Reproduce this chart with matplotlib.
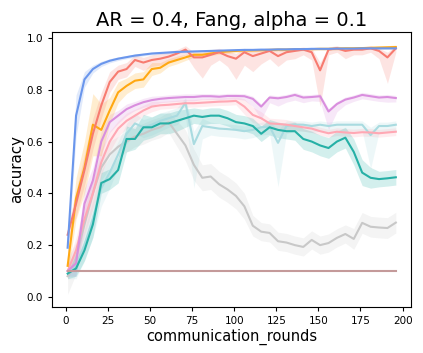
import numpy as np
import matplotlib
matplotlib.use("Agg")
import matplotlib.pyplot as plt

rounds = list(range(1, 200, 5))

blue = [0.19,0.70,0.84,0.88,0.90,0.912,0.92,0.926,0.932,0.936,0.94,0.942,0.944,0.946,0.947,0.948,0.949,0.95,0.951,0.952,
        0.953,0.954,0.954,0.955,0.955,0.956,0.956,0.957,0.957,0.958,0.958,0.958,0.959,0.959,0.959,0.96,0.96,0.96,0.96,0.96]
blue_err = [0.05,0.08,0.03,0.015,0.01,0.008,0.007,0.006,0.006,0.005,0.005,0.005,0.005,0.004,0.004,0.004,0.004,0.004,0.004,0.004,
            0.004,0.004,0.004,0.004,0.004,0.004,0.004,0.004,0.004,0.004,0.004,0.004,0.004,0.004,0.004,0.004,0.004,0.004,0.004,0.004]

red = [0.24,0.36,0.49,0.63,0.74,0.83,0.87,0.88,0.915,0.905,0.915,0.92,0.928,0.94,0.955,0.925,0.925,0.935,0.945,0.93,
       0.92,0.945,0.93,0.94,0.95,0.93,0.945,0.95,0.955,0.945,0.875,0.955,0.96,0.95,0.955,0.955,0.96,0.95,0.925,0.96]
red_lo = [0.03,0.05,0.06,0.06,0.05,0.04,0.03,0.03,0.025,0.03,0.025,0.025,0.025,0.02,0.02,0.04,0.08,0.04,0.03,0.04,
          0.08,0.05,0.06,0.04,0.03,0.04,0.03,0.03,0.02,0.03,0.14,0.02,0.015,0.03,0.02,0.02,0.015,0.03,0.10,0.015]
red_hi = [0.03,0.05,0.06,0.06,0.05,0.04,0.025,0.025,0.02,0.02,0.02,0.02,0.02,0.015,0.015,0.02,0.02,0.02,0.015,0.02,
          0.02,0.015,0.02,0.015,0.01,0.02,0.015,0.01,0.01,0.015,0.03,0.01,0.01,0.01,0.01,0.01,0.01,0.01,0.02,0.01]

orange = [0.12,0.38,0.50,0.665,0.645,0.72,0.79,0.815,0.835,0.84,0.88,0.885,0.905,0.915,0.925,0.935,0.935,0.94,0.945,0.948,
          0.95,0.952,0.952,0.953,0.954,0.955,0.955,0.956,0.957,0.957,0.958,0.958,0.959,0.96,0.96,0.961,0.962,0.963,0.964,0.965]
orange_err = [0.04,0.08,0.10,0.12,0.10,0.05,0.04,0.03,0.03,0.03,0.025,0.02,0.015,0.015,0.012,0.01,0.01,0.008,0.008,0.008,
              0.006,0.006,0.006,0.006,0.006,0.006,0.006,0.006,0.006,0.006,0.006,0.006,0.006,0.006,0.006,0.006,0.006,0.006,0.006,0.008]

violet = [0.10,0.13,0.36,0.45,0.60,0.675,0.70,0.725,0.74,0.752,0.76,0.765,0.768,0.77,0.772,0.772,0.775,0.775,0.773,0.776,
          0.776,0.775,0.765,0.735,0.77,0.767,0.772,0.78,0.77,0.772,0.775,0.716,0.745,0.762,0.77,0.78,0.775,0.77,0.772,0.768]
violet_lo = [0.02,0.05,0.08,0.06,0.05,0.04,0.03,0.025,0.02,0.02,0.02,0.015,0.015,0.015,0.015,0.015,0.012,0.012,0.012,0.012,
             0.012,0.015,0.03,0.05,0.02,0.03,0.02,0.02,0.02,0.015,0.02,0.07,0.03,0.02,0.015,0.015,0.015,0.015,0.02,0.015]
violet_hi = [0.02,0.05,0.06,0.05,0.04,0.03,0.02,0.02,0.015,0.015,0.015,0.012,0.012,0.012,0.012,0.012,0.01,0.01,0.01,0.01,
             0.01,0.01,0.01,0.01,0.01,0.01,0.01,0.01,0.01,0.01,0.01,0.012,0.01,0.01,0.01,0.01,0.01,0.01,0.01,0.01]

pink = [0.10,0.18,0.30,0.40,0.52,0.60,0.65,0.68,0.70,0.72,0.735,0.74,0.742,0.745,0.748,0.748,0.75,0.752,0.754,0.755,
        0.757,0.735,0.703,0.69,0.67,0.668,0.665,0.66,0.655,0.65,0.64,0.632,0.638,0.635,0.633,0.636,0.635,0.632,0.635,0.638]
pink_err = [0.03,0.05,0.06,0.06,0.05,0.04,0.03,0.03,0.025,0.02,0.02,0.015,0.015,0.015,0.015,0.015,0.015,0.015,0.015,0.015,
            0.015,0.03,0.03,0.025,0.02,0.02,0.02,0.015,0.015,0.015,0.015,0.015,0.015,0.015,0.015,0.015,0.015,0.015,0.015,0.015]

teal = [0.09,0.11,0.18,0.28,0.44,0.455,0.49,0.61,0.61,0.655,0.655,0.67,0.67,0.68,0.69,0.70,0.695,0.70,0.70,0.69,
        0.675,0.67,0.66,0.63,0.655,0.645,0.64,0.64,0.61,0.60,0.585,0.575,0.60,0.615,0.56,0.48,0.46,0.455,0.458,0.462]
teal_err = [0.02,0.03,0.04,0.05,0.04,0.04,0.05,0.05,0.04,0.05,0.04,0.04,0.04,0.04,0.035,0.03,0.03,0.03,0.03,0.03,
            0.03,0.03,0.03,0.03,0.03,0.03,0.03,0.035,0.04,0.04,0.04,0.04,0.04,0.04,0.05,0.05,0.04,0.03,0.03,0.03]

cyan = [0.10,0.12,0.20,0.30,0.42,0.48,0.55,0.63,0.67,0.655,0.665,0.68,0.69,0.70,0.75,0.59,0.66,0.655,0.65,0.648,
        0.645,0.64,0.645,0.655,0.658,0.595,0.66,0.665,0.665,0.66,0.665,0.66,0.665,0.665,0.665,0.665,0.625,0.66,0.66,0.665]
cyan_lo = [0.03,0.05,0.06,0.07,0.07,0.06,0.05,0.04,0.04,0.04,0.04,0.04,0.035,0.035,0.05,0.17,0.05,0.03,0.03,0.03,
           0.03,0.03,0.03,0.03,0.03,0.17,0.03,0.025,0.025,0.025,0.025,0.025,0.025,0.025,0.025,0.025,0.13,0.025,0.025,0.025]
cyan_hi = [0.03,0.05,0.06,0.07,0.07,0.06,0.05,0.04,0.04,0.03,0.03,0.03,0.03,0.03,0.02,0.05,0.03,0.02,0.02,0.02,
           0.02,0.02,0.02,0.02,0.02,0.05,0.02,0.015,0.015,0.015,0.015,0.015,0.015,0.015,0.015,0.015,0.03,0.015,0.015,0.015]

gray = [0.08,0.15,0.28,0.40,0.50,0.55,0.58,0.60,0.62,0.63,0.645,0.655,0.675,0.63,0.585,0.51,0.46,0.465,0.435,0.415,
        0.39,0.35,0.275,0.252,0.247,0.215,0.21,0.20,0.193,0.22,0.20,0.208,0.228,0.243,0.224,0.286,0.271,0.268,0.266,0.287]
gray_err = [0.07,0.06,0.06,0.06,0.05,0.05,0.04,0.04,0.04,0.04,0.04,0.04,0.04,0.05,0.06,0.06,0.05,0.05,0.05,0.05,
            0.05,0.05,0.04,0.035,0.035,0.035,0.035,0.035,0.035,0.035,0.035,0.035,0.035,0.035,0.04,0.04,0.04,0.04,0.04,0.04]

brown = [0.10] * 40

series = [
    (gray, gray_err, gray_err, "#c8c8c8"),
    (cyan, cyan_lo, cyan_hi, "#a9dbe0"),
    (pink, pink_err, pink_err, "#ffa8b4"),
    (violet, violet_lo, violet_hi, "#d98ede"),
    (teal, teal_err, teal_err, "#26b0a6"),
    (orange, orange_err, orange_err, "#ffa812"),
    (red, red_lo, red_hi, "#f77b70"),
    (blue, blue_err, blue_err, "#6a96ec"),
    (brown, [0.002] * 40, [0.002] * 40, "#c49a9a"),
]

fig = plt.figure(figsize=(4.23, 3.53), dpi=100)
ax = fig.add_axes([0.1229, 0.1303, 0.9716 - 0.1229, 0.9093 - 0.1303])
x = np.array(rounds)
for mean, lo, hi, col in series:
    m = np.array(mean)
    ax.fill_between(x, m - np.array(lo), m + np.array(hi), color=col, alpha=0.2, linewidth=0)
    ax.plot(x, m, color=col, linewidth=1.5)

ax.set_xlim(-8.3, 205)
ax.set_ylim(-0.039, 1.023)
ax.set_xticks([0, 25, 50, 75, 100, 125, 150, 175, 200])
ax.set_yticks([0.0, 0.2, 0.4, 0.6, 0.8, 1.0])
ax.tick_params(labelsize=7.5, length=3, width=0.8)
for s in ax.spines.values():
    s.set_linewidth(0.8)
ax.set_xlabel("communication_rounds", fontsize=10.5, labelpad=2)
ax.set_ylabel("accuracy", fontsize=10.8, labelpad=2)
ax.set_title("AR = 0.4, Fang, alpha = 0.1", fontsize=14, pad=4)
fig.savefig("out.png", dpi=100)
